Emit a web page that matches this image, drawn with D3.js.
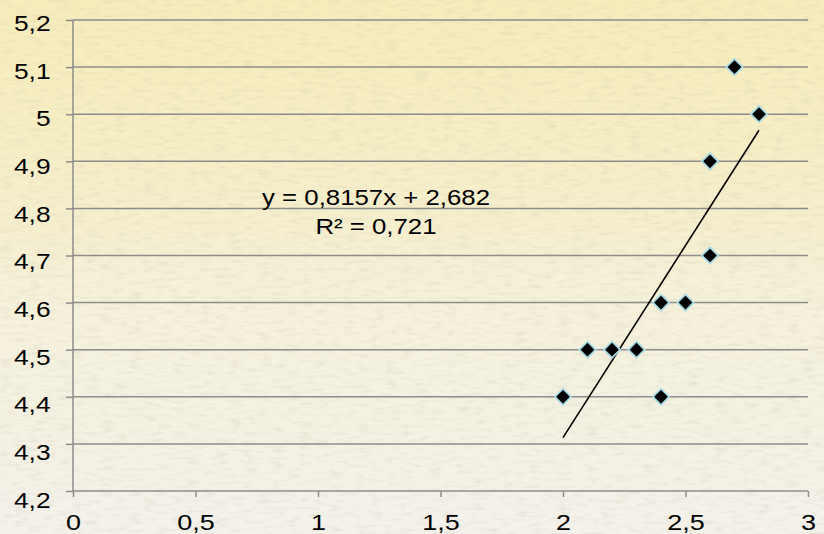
<!DOCTYPE html>
<html>
<head>
<meta charset="utf-8">
<script src="https://cdn.jsdelivr.net/npm/d3@7"></script>
<style>
  html, body { margin: 0; padding: 0; background: #f4efd8; }
  .chart text { font-family: "Liberation Sans", Arial, sans-serif; fill: #000; }
  .axis path, .axis line { stroke: #8c8c8c; stroke-width: 1.5; }
</style>
</head>
<body>
<div class="chart"></div>
<script>
// data
const xValues = [2, 2.1, 2.2, 2.3, 2.4, 2.5, 2.4, 2.6, 2.6, 2.7, 2.8];
const yValues = [4.4, 4.5, 4.5, 4.5, 4.6, 4.6, 4.4, 4.7, 4.9, 5.1, 5.0];
const xTicks = [0, 0.5, 1, 1.5, 2, 2.5, 3];
const yTicks = [4.2, 4.3, 4.4, 4.5, 4.6, 4.7, 4.8, 4.9, 5, 5.1, 5.2];
const slope = 0.8157, intercept = 2.682, rSquared = 0.721;
const trendRange = [2, 2.8];

const width = 824, height = 534;
const margin = ({top: 20, right: 16, bottom: 43, left: 73});
const stretch = 1.2;   // the original text is a bit wide
const fontSize = 22;

const svg = d3.select('.chart').append('svg')
    .attr("width", width)
    .attr("height", height);

// parchment background
const defs = svg.append("defs");
const grad = defs.append("linearGradient").attr("id", "bg")
    .attr("x1", 0).attr("y1", 0).attr("x2", 0).attr("y2", 1);
grad.append("stop").attr("offset", "0%").attr("stop-color", "#f7ecbb");
grad.append("stop").attr("offset", "30%").attr("stop-color", "#f6eec6");
grad.append("stop").attr("offset", "60%").attr("stop-color", "#f5f1dc");
grad.append("stop").attr("offset", "100%").attr("stop-color", "#f3f1ea");

const filt = defs.append("filter").attr("id", "paper")
    .attr("x", 0).attr("y", 0).attr("width", "100%").attr("height", "100%");
filt.append("feTurbulence")
    .attr("type", "fractalNoise")
    .attr("baseFrequency", "0.07 0.28")
    .attr("numOctaves", 2)
    .attr("seed", 7);
filt.append("feColorMatrix")
    .attr("type", "matrix")
    .attr("values", "0 0 0 0 0.5  0 0 0 0 0.47  0 0 0 0 0.35  0 0 0 -2.2 1.15");

svg.append("rect").attr("width", width).attr("height", height).attr("fill", "url(#bg)");
svg.append("rect").attr("width", width).attr("height", height)
    .attr("filter", "url(#paper)").attr("opacity", 0.22);

const xScale = d3.scaleLinear().domain([0, 3]).range([margin.left, width - margin.right]);
const yScale = d3.scaleLinear().domain([4.2, 5.2]).range([height - margin.bottom, margin.top]);

const loc = d3.formatLocale({decimal: ",", thousands: " ", grouping: [3], currency: ["", ""]});
const fmt = loc.format("~g");

// gridlines
svg.append("g").selectAll("line")
  .data(yTicks.slice(1))
  .enter().append("line")
    .attr("x1", xScale(0)).attr("x2", xScale(3))
    .attr("y1", d => yScale(d)).attr("y2", d => yScale(d))
    .attr("stroke", "#8c8c8c").attr("stroke-width", 1.5);

const yAxis = d3.axisLeft(yScale).tickValues(yTicks).tickFormat(fmt)
    .tickSize(7).tickPadding(11.7);
const xAxis = d3.axisBottom(xScale).tickValues(xTicks).tickFormat(fmt)
    .tickSize(6).tickPadding(17);

svg.append("g").attr("class", "axis y-axis")
    .attr("transform", `translate(${margin.left},0)`)
    .call(yAxis)
    .call(g => g.select(".domain").attr("d", `M0,${yScale(5.2)}V${yScale(4.2)}`))
    .selectAll("text")
    .attr("font-size", fontSize).attr("font-family", null)
    .attr("y", d => 3.3 + (5.2 - d) * 6)
    .attr("transform", `scale(${stretch},1)`);

svg.append("g").attr("class", "axis x-axis")
    .attr("transform", `translate(0,${yScale(4.2)})`)
    .call(xAxis)
    .call(g => g.select(".domain").attr("d", `M${xScale(0)},0H${xScale(3)}`))
    .selectAll("text")
    .attr("font-size", fontSize + 0.5).attr("font-family", null)
    .attr("transform", `scale(${stretch},1)`);

// trendline
svg.append("line")
    .attr("x1", xScale(trendRange[0])).attr("y1", yScale(slope * trendRange[0] + intercept))
    .attr("x2", xScale(trendRange[1])).attr("y2", yScale(slope * trendRange[1] + intercept))
    .attr("stroke", "#000").attr("stroke-width", 1.6);

// points
const points = xValues.map((x, i) => ({x: x, y: yValues[i]}));
svg.append("g").selectAll("path")
  .data(points)
  .enter().append("path")
    .attr("d", d3.symbol(d3.symbolSquare, 132))
    .attr("transform", d => `translate(${xScale(d.x)},${yScale(d.y)}) rotate(45)`)
    .attr("fill", "#000")
    .attr("stroke", "#a9dbe5")
    .attr("stroke-width", 1.8);

// equation label
const eq = svg.append("g").attr("transform", `translate(376,0) scale(${stretch},1)`)
  .append("text")
    .attr("text-anchor", "middle").attr("font-size", 21.5);
eq.append("tspan").attr("x", 0).attr("y", 205)
    .text("y = " + loc.format(".4f")(slope) + "x + " + loc.format(".3f")(intercept));
eq.append("tspan").attr("x", 0).attr("y", 234)
    .text("R² = " + loc.format(".3f")(rSquared));
</script>
</body>
</html>
